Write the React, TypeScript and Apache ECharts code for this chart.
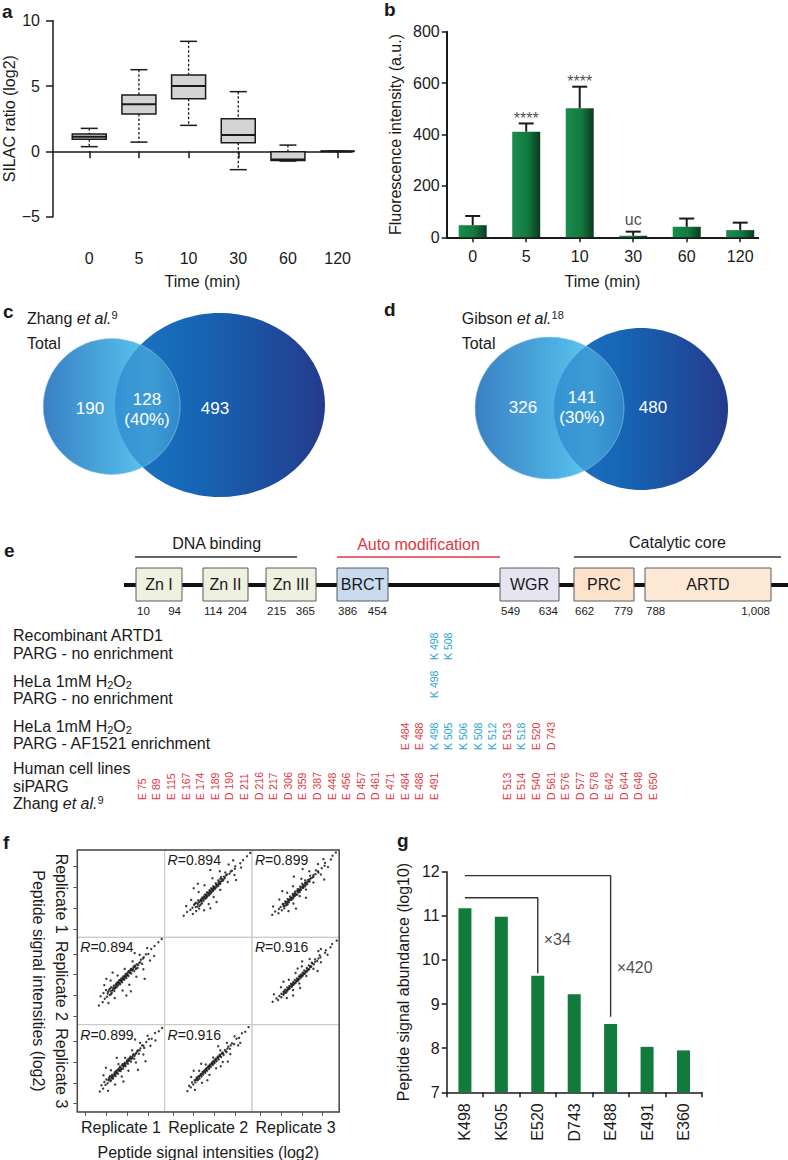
import React, { useEffect, useRef } from "react";
import * as echarts from "echarts";

const FF = '"Liberation Sans", Arial, Helvetica, sans-serif';
const INK = "#1a1a1a";
const RED = "#e2353f";
const BLUE = "#2aa6d6";

// ---------- a: SILAC ratio box plots ----------
const timeLabels = ["0", "5", "10", "30", "60", "120"];
const silacMin = [0.36, 0.71, 1.99, -1.4, -0.74, 0];
const silacQ1 = [0.92, 2.86, 4.03, 0.66, -0.69, 0];
const silacMedian = [1.12, 3.6, 5.0, 1.25, -0.62, 0];
const silacQ3 = [1.33, 4.31, 5.84, 2.5, -0.03, 0];
const silacMax = [1.76, 6.25, 8.42, 4.57, 0.48, 0];

// ---------- b: fluorescence ----------
const fluorMean = [47, 411, 502, 6, 41, 28];
const fluorUpper = [83, 443, 586, 22, 73, 57];
const fluorMarks = ["", "****", "****", "uc", "", ""];

// ---------- c, d: Venn counts ----------
const zhangOnly = 190;
const zhangShared = 128;
const zhangSharedPct = 40;
const zhangOurs = 493;
const gibsonOnly = 326;
const gibsonShared = 141;
const gibsonSharedPct = 30;
const gibsonOurs = 480;

// ---------- e: ARTD1 domains and sites ----------
const domainNames = ["Zn I", "Zn II", "Zn III", "BRCT", "WGR", "PRC", "ARTD"];
const domainStart = [10, 114, 215, 386, 549, 662, 788];
const domainEnd = [94, 204, 365, 454, 634, 779, 1008];
const blank = (n: number): string[] => Array.from({ length: n }, () => "");
const rowRecombinant = [...blank(20), "K 498", "K 508"];
const rowHeLa = [...blank(20), "K 498"];
const rowAF1521 = [...blank(18), "E 484", "E 488", "K 498", "K 505", "K 506", "K 508", "K 512", "E 513", "K 518", "E 520", "D 743"];
const rowZhang = ["E 75", "E 89", "E 115", "E 167", "E 174", "E 189", "D 190", "E 211", "D 216", "E 217", "D 306", "E 359", "D 387", "E 448", "E 456", "D 457", "D 461", "E 471", "E 484", "E 488", "E 491", ...blank(4), "E 513", "E 514", "E 540", "D 561", "E 576", "D 577", "D 578", "E 642", "D 644", "D 648", "E 650"];

// ---------- f: replicate scatter matrix ----------
const replicateNames = ["Replicate 1", "Replicate 2", "Replicate 3"];
const rPair12 = 0.894;
const rPair13 = 0.899;
const rPair23 = 0.916;
const pair12 = [
  [18.6, 19.8], [19.1, 18.4], [19.3, 20.6], [19.6, 19.2], [19.9, 21.3], [20.1, 19.7], [20.3, 20.5], [20.6, 21.4], [20.8, 20.1], [21.0, 21.0], [21.2, 22.0], [21.3, 20.6], [21.6, 21.5], [21.8, 22.4], [21.9, 21.1], [22.1, 21.8], [22.3, 22.6], [22.5, 22.0], [22.6, 23.1], [22.8, 22.4], [23.0, 23.0], [23.1, 23.7], [23.3, 22.7], [23.5, 23.4], [23.6, 24.1], [23.8, 23.2], [24.0, 23.9], [24.1, 24.6], [24.3, 23.8], [24.5, 24.4], [24.6, 25.1], [24.8, 24.2], [25.0, 24.9], [25.2, 25.6], [25.3, 24.7], [25.6, 25.4], [25.8, 26.1], [26.0, 25.3], [26.2, 26.0], [26.5, 26.7], [26.7, 25.9], [27.0, 26.8], [27.3, 27.5], [27.5, 26.6], [27.9, 27.8], [28.3, 28.6], [28.6, 27.6], [29.0, 29.2], [29.5, 29.9], [30.1, 30.0], [30.8, 31.2], [31.6, 31.9], [32.5, 32.8], [33.3, 33.6],
  [21.4, 21.2], [21.7, 21.9], [22.0, 21.7], [22.2, 22.2], [22.4, 22.9], [22.7, 22.6], [22.9, 23.3], [23.2, 23.0], [23.4, 23.8], [23.7, 23.6], [23.9, 24.3], [24.2, 24.0], [24.4, 24.7], [24.7, 24.6], [24.9, 25.3], [25.1, 25.0], [25.4, 25.9], [25.7, 25.6], [25.9, 26.4], [26.1, 26.2], [26.4, 26.3], [26.6, 27.0], [26.9, 27.2], [27.1, 26.4], [27.6, 27.3], [20.4, 20.9], [20.9, 21.7], [21.1, 20.3], [28.1, 28.0], [28.8, 28.9],
  [19.5, 22.5], [20.5, 18.2], [21.0, 23.6], [22.0, 19.4], [22.7, 24.8], [23.9, 21.2], [24.4, 26.4], [25.5, 22.6], [26.3, 28.2], [27.2, 24.5], [28.0, 29.8], [28.9, 26.3], [29.8, 31.4], [30.5, 28.4], [20.0, 24.0], [24.8, 20.0], [26.8, 30.2], [29.2, 24.0], [31.5, 29.5], [18.2, 17.6], [21.5, 25.5], [25.9, 21.0],
];
const pair13 = [
  [18.8, 19.4], [19.2, 18.6], [19.5, 20.2], [19.8, 19.5], [20.0, 20.8], [20.3, 19.9], [20.5, 20.6], [20.7, 21.3], [21.0, 20.4], [21.2, 21.1], [21.4, 21.9], [21.6, 21.0], [21.8, 21.7], [22.0, 22.5], [22.2, 21.6], [22.4, 22.3], [22.6, 23.0], [22.8, 22.2], [23.0, 22.9], [23.2, 23.6], [23.4, 22.8], [23.6, 23.5], [23.8, 24.2], [24.0, 23.4], [24.2, 24.1], [24.4, 24.8], [24.6, 24.0], [24.8, 24.7], [25.0, 25.4], [25.2, 24.6], [25.4, 25.3], [25.7, 26.0], [25.9, 25.1], [26.1, 25.8], [26.4, 26.6], [26.7, 25.8], [27.0, 26.9], [27.4, 27.6], [27.8, 27.0], [28.2, 28.3], [28.6, 29.0], [29.1, 28.4], [29.6, 29.8], [30.2, 30.5], [30.9, 30.6], [31.7, 32.0], [32.6, 32.4], [33.4, 33.2],
  [21.3, 21.5], [21.5, 21.3], [21.9, 22.1], [22.1, 22.0], [22.3, 22.8], [22.5, 22.5], [22.9, 23.3], [23.1, 23.1], [23.3, 23.9], [23.5, 23.2], [23.9, 24.5], [24.1, 23.9], [24.3, 24.5], [24.5, 24.3], [24.9, 25.2], [25.1, 25.1], [25.3, 25.8], [25.6, 25.5], [25.8, 26.3], [26.0, 25.9], [26.3, 26.2], [26.5, 26.9], [26.8, 26.5], [27.2, 27.2], [27.6, 27.8], [20.6, 20.9], [20.9, 21.6], [21.0, 20.6], [28.0, 27.8], [28.9, 28.9],
  [19.3, 21.8], [20.4, 18.1], [21.1, 23.0], [22.1, 19.6], [22.9, 24.5], [23.7, 21.5], [24.5, 26.0], [25.3, 22.9], [26.2, 27.8], [27.1, 24.9], [28.1, 29.6], [28.9, 26.8], [29.9, 31.3], [30.6, 28.9], [19.9, 23.6], [24.1, 20.3], [26.9, 30.4], [29.4, 25.2], [31.8, 30.2], [18.4, 17.9], [22.5, 26.0], [27.6, 23.1],
];
const pair23 = [
  [18.9, 19.3], [19.3, 18.9], [19.6, 20.1], [19.9, 19.6], [20.2, 20.6], [20.4, 20.1], [20.7, 21.1], [20.9, 20.6], [21.2, 21.6], [21.4, 21.0], [21.7, 22.1], [21.9, 21.5], [22.1, 22.6], [22.3, 22.0], [22.6, 23.0], [22.8, 22.4], [23.0, 23.5], [23.2, 22.9], [23.5, 24.0], [23.7, 23.3], [23.9, 24.4], [24.1, 23.8], [24.4, 24.9], [24.6, 24.3], [24.8, 25.3], [25.0, 24.7], [25.3, 25.8], [25.5, 25.2], [25.8, 26.3], [26.0, 25.6], [26.3, 26.8], [26.6, 26.2], [26.9, 27.3], [27.2, 26.7], [27.5, 27.9], [27.9, 27.4], [28.3, 28.7], [28.7, 28.2], [29.2, 29.5], [29.7, 29.3], [30.3, 30.6], [30.9, 30.8], [31.6, 31.9], [32.4, 32.3], [33.2, 33.4],
  [21.3, 21.4], [21.6, 21.8], [21.8, 21.9], [22.2, 22.3], [22.4, 22.7], [22.7, 22.7], [22.9, 23.2], [23.1, 23.2], [23.4, 23.7], [23.6, 23.7], [23.8, 24.1], [24.0, 24.1], [24.3, 24.6], [24.5, 24.6], [24.7, 25.0], [25.0, 25.0], [25.2, 25.5], [25.4, 25.5], [25.7, 26.0], [25.9, 26.0], [26.2, 26.5], [26.4, 26.4], [26.8, 27.0], [27.1, 27.1], [27.7, 27.6], [20.5, 20.7], [20.8, 21.3], [21.0, 20.8], [28.1, 28.2], [28.9, 29.0],
  [19.4, 21.4], [20.3, 18.3], [21.3, 22.9], [22.0, 20.0], [22.9, 24.4], [23.8, 21.9], [24.7, 26.1], [25.4, 23.5], [26.4, 27.8], [27.0, 25.0], [28.0, 29.6], [28.8, 26.9], [29.8, 31.2], [30.7, 29.0], [20.0, 22.9], [23.3, 20.6], [25.9, 28.8], [28.2, 25.1], [31.2, 29.6], [18.5, 18.0], [21.8, 24.6], [26.5, 24.0],
];
const fTicks = [15, 20, 25, 30];

// ---------- g: peptide abundance ----------
const gSites = ["K498", "K505", "E520", "D743", "E488", "E491", "E360"];
const gAbundance = [11.17, 10.98, 9.64, 9.22, 8.55, 8.03, 7.95];
const foldSmall = { from: "K498", to: "E520", level: 11.41, drop: 9.7, labelAt: 10.47, text: "\u00d734" };
const foldLarge = { from: "K498", to: "E488", level: 11.91, drop: 8.71, labelAt: 9.83, text: "\u00d7420" };

// ================== layout helpers ==================
const axisTxt = { fontSize: 16, color: INK, fontFamily: FF };

function text(t: string, x: number, y: number, extra: any = {}, el: any = {}) {
  return {
    type: "text",
    silent: true,
    z: 50,
    ...el,
    style: { text: t, x, y, fill: INK, fontSize: 16, fontFamily: FF, align: "left", verticalAlign: "middle", ...extra },
  };
}

function richBase(size: number) {
  return {
    a: { fontSize: size, fontFamily: FF, fill: INK, lineHeight: size + 1 },
    i: { fontSize: size, fontFamily: FF, fill: INK, fontStyle: "italic", lineHeight: size + 1 },
    s: { fontSize: size - 5, fontFamily: FF, fill: INK, lineHeight: size - 7, verticalAlign: "top" },
    b: { fontSize: size - 5, fontFamily: FF, fill: INK, lineHeight: size - 7, verticalAlign: "bottom" },
  };
}

function buildOption() {
  const grids: any[] = [];
  const xAxes: any[] = [];
  const yAxes: any[] = [];
  const series: any[] = [];
  const g: any[] = [];

  const line = (w: number) => ({ show: true, lineStyle: { color: INK, width: w } });
  const noSplit = { show: false };

  // ---------------- a ----------------
  grids.push({ left: 53, top: 20.7, width: 299, height: 196, outerBoundsMode: "none" });
  xAxes.push({
    gridIndex: 0, type: "value", min: 0.27, max: 6.29, offset: 22,
    axisLine: line(1.5),
    axisTick: { show: true, length: 7, customValues: [1, 2, 3, 4, 5, 6], lineStyle: { color: INK, width: 1.5 } },
    axisLabel: { show: true, customValues: [1, 2, 3, 4, 5, 6], margin: 12, formatter: (v: number) => timeLabels[Math.round(v) - 1] ?? "", ...axisTxt },
    splitLine: noSplit,
    name: "Time (min)", nameLocation: "middle", nameGap: 35, nameTextStyle: axisTxt,
  });
  yAxes.push({
    gridIndex: 0, type: "value", min: -5, max: 10, interval: 5,
    axisLine: line(1.5),
    axisTick: { show: true, length: 7, lineStyle: { color: INK, width: 1.5 } },
    axisLabel: { margin: 13, formatter: (v: number) => (v < 0 ? "\u2212" + Math.abs(v) : String(v)), ...axisTxt },
    splitLine: noSplit,
    name: "SILAC ratio (log2)", nameLocation: "middle", nameGap: 35, nameTextStyle: axisTxt,
  });
  series.push({
    type: "custom", xAxisIndex: 0, yAxisIndex: 0, silent: true,
    data: timeLabels.map((_, i) => [i + 1, silacMin[i], silacQ1[i], silacMedian[i], silacQ3[i], silacMax[i]]),
    renderItem: (_p: any, api: any) => {
      const x = api.value(0);
      const lo = api.coord([x, api.value(1)]);
      const q1 = api.coord([x, api.value(2)]);
      const md = api.coord([x, api.value(3)]);
      const q3 = api.coord([x, api.value(4)]);
      const hi = api.coord([x, api.value(5)]);
      const cx = md[0];
      const hw = 17;
      const cw = 8.5;
      const solid = { stroke: INK, lineWidth: 1.5 };
      const dotted = { stroke: INK, lineWidth: 1.3, lineDash: [2.5, 2] };
      return {
        type: "group",
        children: [
          { type: "line", shape: { x1: cx, y1: hi[1], x2: cx, y2: q3[1] }, style: dotted },
          { type: "line", shape: { x1: cx, y1: q1[1], x2: cx, y2: lo[1] }, style: dotted },
          { type: "line", shape: { x1: cx - cw, y1: hi[1], x2: cx + cw, y2: hi[1] }, style: solid },
          { type: "line", shape: { x1: cx - cw, y1: lo[1], x2: cx + cw, y2: lo[1] }, style: solid },
          { type: "rect", shape: { x: cx - hw, y: q3[1], width: 2 * hw, height: q1[1] - q3[1] }, style: { fill: "#d4d4d4", stroke: INK, lineWidth: 1.5 } },
          { type: "line", shape: { x1: cx - hw, y1: md[1], x2: cx + hw, y2: md[1] }, style: { stroke: INK, lineWidth: 2 } },
        ],
      };
    },
  });

  // ---------------- b ----------------
  grids.push({ left: 446.7, top: 31.7, width: 311.6, height: 205.6, outerBoundsMode: "none" });
  xAxes.push({
    gridIndex: 1, type: "value", min: 0.514, max: 6.338,
    axisLine: line(2),
    axisTick: { show: true, length: 5, customValues: [1, 2, 3, 4, 5, 6], lineStyle: { color: INK, width: 1.5 } },
    axisLabel: { show: true, customValues: [1, 2, 3, 4, 5, 6], margin: 11, formatter: (v: number) => timeLabels[Math.round(v) - 1] ?? "", ...axisTxt },
    splitLine: noSplit,
    name: "Time (min)", nameLocation: "middle", nameGap: 36, nameTextStyle: axisTxt,
  });
  yAxes.push({
    gridIndex: 1, type: "value", min: 0, max: 800, interval: 200,
    axisLine: line(2),
    axisTick: { show: true, length: 5, lineStyle: { color: INK, width: 1.5 } },
    axisLabel: { margin: 7, ...axisTxt },
    splitLine: noSplit,
    name: "Fluorescence intensity (a.u.)", nameLocation: "middle", nameGap: 43, nameTextStyle: axisTxt,
  });
  series.push({
    type: "bar", xAxisIndex: 1, yAxisIndex: 1, barWidth: 28, silent: true,
    data: fluorMean.map((v, i) => [i + 1, v]),
    itemStyle: {
      color: new echarts.graphic.LinearGradient(0, 0, 1, 0, [
        { offset: 0, color: "#1a8d4d" },
        { offset: 0.55, color: "#13793f" },
        { offset: 1, color: "#0a3b1e" },
      ]),
    },
  });
  series.push({
    type: "custom", xAxisIndex: 1, yAxisIndex: 1, silent: true, z: 5,
    data: fluorMean.map((v, i) => [i + 1, v, fluorUpper[i]]),
    renderItem: (_p: any, api: any) => {
      const x = api.value(0);
      const base = api.coord([x, api.value(1)]);
      const top = api.coord([x, api.value(2)]);
      const st = { stroke: INK, lineWidth: 2 };
      return {
        type: "group",
        children: [
          { type: "line", shape: { x1: top[0], y1: base[1], x2: top[0], y2: top[1] }, style: st },
          { type: "line", shape: { x1: top[0] - 7.5, y1: top[1], x2: top[0] + 7.5, y2: top[1] }, style: st },
        ],
      };
    },
  });
  series.push({
    type: "scatter", xAxisIndex: 1, yAxisIndex: 1, symbolSize: 0, silent: true,
    data: fluorMarks
      .map((m, i) => ({ m, i }))
      .filter((d) => d.m)
      .map((d) => ({
        value: [d.i + 1, fluorUpper[d.i]],
        label: {
          show: true, position: "top", formatter: d.m, color: INK, fontFamily: FF,
          fontSize: 16, distance: d.m.startsWith("*") ? -3 : 4,
        },
      })),
  });

  // ---------------- f: scatter matrix ----------------
  const fLeft = 77.3;
  const fTop = 850;
  const fCell = 87.3;
  const pairs: any = { "0-1": pair12, "0-2": pair13, "1-2": pair23 };
  const rVals: any = { "0-1": rPair12, "0-2": rPair13, "1-2": rPair23 };
  for (let r = 0; r < 3; r++) {
    for (let c = 0; c < 3; c++) {
      const gi = grids.length;
      grids.push({
        left: fLeft + c * fCell, top: fTop + r * fCell, width: fCell, height: fCell,
        show: true, borderColor: "#c9c9c9", borderWidth: 1, outerBoundsMode: "none",
      });
      xAxes.push({
        gridIndex: gi, type: "value", min: 13, max: 34,
        axisLine: { show: false },
        axisTick: { show: r === 2, length: 4, customValues: fTicks, lineStyle: { color: "#555" } },
        axisLabel: { show: false }, splitLine: noSplit,
      });
      yAxes.push({
        gridIndex: gi, type: "value", min: 13, max: 34,
        axisLine: { show: false },
        axisTick: { show: c === 0, length: 4, customValues: fTicks, lineStyle: { color: "#555" } },
        axisLabel: { show: false }, splitLine: noSplit,
      });
      if (r !== c) {
        const key = `${Math.min(r, c)}-${Math.max(r, c)}`;
        const pts: number[][] = pairs[key];
        const data = pts.map((p) => (r < c ? [p[1], p[0]] : [p[0], p[1]]));
        series.push({
          type: "scatter", xAxisIndex: gi, yAxisIndex: gi, silent: true,
          symbolSize: 2.4, itemStyle: { color: "#1c1c1c", opacity: 0.85 }, data,
        });
        g.push({
          type: "text", silent: true, z: 50,
          style: {
            text: `{i|R}{a|=${rVals[key].toFixed(3)}}`,
            x: fLeft + c * fCell + 3, y: fTop + r * fCell + 10,
            align: "left", verticalAlign: "middle",
            rich: richBase(14),
          },
        });
      }
    }
  }
  g.push({
    type: "rect", silent: true, z: 60,
    shape: { x: fLeft, y: fTop, width: 3 * fCell, height: 3 * fCell },
    style: { fill: "none", stroke: "#4a4a4a", lineWidth: 1.5 },
  });
  replicateNames.forEach((nm, i) => {
    g.push({
      type: "text", silent: true, z: 50, x: 61.5, y: fTop + (i + 0.5) * fCell, rotation: -Math.PI / 2,
      style: { text: nm, x: 0, y: 0, fill: INK, fontSize: 16, fontFamily: FF, align: "center", verticalAlign: "middle" },
    });
    g.push(text(nm, fLeft + (i + 0.5) * fCell, 1127, { align: "center" }));
  });
  g.push({
    type: "text", silent: true, z: 50, x: 38, y: fTop + 1.5 * fCell, rotation: -Math.PI / 2,
    style: { text: "Peptide signal intensities (log2)", x: 0, y: 0, fill: INK, fontSize: 16, fontFamily: FF, align: "center", verticalAlign: "middle" },
  });
  g.push(text("Peptide signal intensities (log2)", fLeft + 1.5 * fCell, 1152, { align: "center" }));

  // ---------------- g ----------------
  const gG = grids.length;
  grids.push({ left: 446.7, top: 871.7, width: 255, height: 220.6, outerBoundsMode: "none" });
  xAxes.push({
    gridIndex: gG, type: "category", data: gSites,
    axisLine: line(1.5),
    axisTick: { show: true, length: 5, lineStyle: { color: INK, width: 1.5 } },
    axisLabel: { rotate: 90, margin: 11, ...axisTxt },
  });
  yAxes.push({
    gridIndex: gG, type: "value", min: 7, max: 12, interval: 1,
    axisLine: line(1.5),
    axisTick: { show: true, length: 5, lineStyle: { color: INK, width: 1.5 } },
    axisLabel: { margin: 7, ...axisTxt },
    splitLine: noSplit,
    name: "Peptide signal abundance (log10)", nameLocation: "middle", nameGap: 35, nameTextStyle: axisTxt,
  });
  series.push({
    type: "bar", xAxisIndex: gG, yAxisIndex: gG, barWidth: 13, silent: true,
    data: gAbundance, itemStyle: { color: "#107b3b" },
  });
  [foldSmall, foldLarge].forEach((f) => {
    series.push({
      type: "line", xAxisIndex: gG, yAxisIndex: gG, symbol: "none", silent: true,
      lineStyle: { color: "#333", width: 1.4 },
      data: [[f.from, f.level], [f.to, f.level], [f.to, f.drop]],
    });
    series.push({
      type: "scatter", xAxisIndex: gG, yAxisIndex: gG, symbolSize: 0, silent: true,
      data: [[f.to, f.labelAt]],
      label: { show: true, position: "right", distance: 6, formatter: f.text, ...axisTxt },
    });
  });

  // ---------------- e: site labels (hidden slot axis) ----------------
  const gE = grids.length;
  grids.push({ left: 141.7, top: 600, width: 35 * 14.6, height: 220, outerBoundsMode: "none" });
  xAxes.push({ gridIndex: gE, type: "value", min: 0, max: 35, show: false });
  yAxes.push({ gridIndex: gE, type: "value", min: 600, max: 820, inverse: true, show: false });
  const rowBase = [660, 698, 750, 800];
  const siteNames: string[] = [];
  const sitePts: number[][] = [];
  [rowRecombinant, rowHeLa, rowAF1521, rowZhang].forEach((row, ri) => {
    row.forEach((nm, slot) => {
      if (nm) {
        siteNames.push(nm);
        sitePts.push([slot, rowBase[ri]]);
      }
    });
  });
  series.push({
    type: "custom", xAxisIndex: gE, yAxisIndex: gE, silent: true, data: sitePts,
    renderItem: (p: any, api: any) => {
      const pt = api.coord([api.value(0), api.value(1)]);
      const nm = siteNames[p.dataIndex];
      return {
        type: "text", x: pt[0], y: pt[1], rotation: Math.PI / 2,
        style: {
          text: nm, x: 0, y: 0, fill: nm.startsWith("K") ? BLUE : RED,
          fontSize: 10.5, fontFamily: FF, align: "left", verticalAlign: "middle",
        },
      };
    },
  });

  // ---------------- panel letters ----------------
  const letter = (t: string, x: number, y: number) => text(t, x, y, { fontWeight: "bold", fontSize: 19 });
  g.push(letter("a", 2, 11), letter("b", 384, 9), letter("c", 3, 311), letter("d", 384, 309), letter("e", 4, 550), letter("f", 3, 842), letter("g", 397, 840));

  // ---------------- c, d: Venn ----------------
  const lightGrad = () =>
    new echarts.graphic.LinearGradient(0, 0, 1, 0, [
      { offset: 0, color: "#3a80c4" },
      { offset: 0.55, color: "#4eb0e2" },
      { offset: 0.78, color: "#60c8ee" },
      { offset: 1, color: "#4aa9dd" },
    ]);
  const darkGrad = () =>
    new echarts.graphic.LinearGradient(0, 0, 1, 0, [
      { offset: 0, color: "#1c78c4" },
      { offset: 0.4, color: "#1665b4" },
      { offset: 1, color: "#243b8c" },
    ]);
  // each: [cx, cy, rx, ry]
  const venn = (l: number[], d: number[]) => [
    { type: "ellipse", silent: true, z: 10, shape: { cx: l[0], cy: l[1], rx: l[2], ry: l[3] }, style: { fill: lightGrad() } },
    { type: "ellipse", silent: true, z: 11, shape: { cx: d[0], cy: d[1], rx: d[2], ry: d[3] }, style: { fill: darkGrad() } },
    {
      type: "ellipse", silent: true, z: 12, shape: { cx: l[0], cy: l[1], rx: l[2], ry: l[3] },
      style: { fill: lightGrad(), opacity: 0.5, stroke: "rgba(175,222,246,0.9)", lineWidth: 1 },
    },
  ];
  g.push(...venn([111.7, 406.5, 68.5, 68], [220, 405, 105, 92]));
  g.push(...venn([549.5, 408, 74.5, 71], [641, 409, 87, 81]));
  const white = { fill: "#ffffff", fontSize: 17, align: "center" };
  g.push(
    text(String(zhangOnly), 90, 408, white),
    text(String(zhangShared), 147, 399, white),
    text(`(${zhangSharedPct}%)`, 147, 419, white),
    text(String(zhangOurs), 215, 408, white),
    text(String(gibsonOnly), 523, 407, white),
    text(String(gibsonShared), 582, 397, white),
    text(`(${gibsonSharedPct}%)`, 582, 417, white),
    text(String(gibsonOurs), 653, 407, white),
  );
  g.push(text("{a|Zhang }{i|et al.}{s|9}", 27, 318, { rich: richBase(16) }));
  g.push(text("Total", 27, 343));
  g.push(text("{a|Gibson }{i|et al.}{s|18}", 461.7, 318, { rich: richBase(16) }));
  g.push(text("Total", 461.7, 343));

  // ---------------- e: domain schematic ----------------
  const anns = [
    { t: "DNA binding", color: INK, cx: 216.7, y: 543, x0: 135, x1: 297 },
    { t: "Auto modification", color: RED, cx: 418.5, y: 544, x0: 337, x1: 500 },
    { t: "Catalytic core", color: INK, cx: 677.5, y: 542, x0: 574, x1: 781 },
  ];
  anns.forEach((a) => {
    g.push(text(a.t, a.cx, a.y, { fill: a.color, align: "center" }));
    g.push({ type: "line", silent: true, z: 20, shape: { x1: a.x0, y1: 557, x2: a.x1, y2: 557 }, style: { stroke: a.color === INK ? "#333" : a.color, lineWidth: 1.6 } });
  });
  g.push({ type: "line", silent: true, z: 20, shape: { x1: 124, y1: 585, x2: 788, y2: 585 }, style: { stroke: "#111", lineWidth: 4 } });
  const boxX0 = [136, 203, 266, 337, 500, 574, 645];
  const boxX1 = [182, 248, 316, 388, 559, 634, 771];
  const boxFill = ["#eef1e0", "#eef1e0", "#eef1e0", "#c9d9ef", "#e6e4f1", "#fde3cc", "#fde7d5"];
  domainNames.forEach((nm, i) => {
    g.push({
      type: "rect", silent: true, z: 21,
      shape: { x: boxX0[i], y: 568, width: boxX1[i] - boxX0[i], height: 33 },
      style: { fill: boxFill[i], stroke: "#5a5a5a", lineWidth: 1 },
    });
    g.push(text(nm, (boxX0[i] + boxX1[i]) / 2, 584.5, { align: "center" }));
    g.push(text(domainStart[i].toLocaleString("en-US"), boxX0[i] + 1, 611, { fontSize: 11.5 }));
    g.push(text(domainEnd[i].toLocaleString("en-US"), boxX1[i] - 1, 611, { fontSize: 11.5, align: "right" }));
  });
  const rich16 = richBase(16);
  const descLines: [string, number][] = [
    ["{a|Recombinant ARTD1}", 635],
    ["{a|PARG - no enrichment}", 653.3],
    ["{a|HeLa 1mM H}{b|2}{a|O}{b|2}", 681.7],
    ["{a|PARG - no enrichment}", 698.3],
    ["{a|HeLa 1mM H}{b|2}{a|O}{b|2}", 726.7],
    ["{a|PARG - AF1521 enrichment}", 743.3],
    ["{a|Human cell lines}", 768.3],
    ["{a|siPARG}", 786.7],
    ["{a|Zhang }{i|et al.}{s|9}", 803.3],
  ];
  descLines.forEach(([t, y]) => g.push(text(t, 13, y, { rich: rich16 })));

  return {
    animation: false,
    backgroundColor: "#ffffff",
    textStyle: { fontFamily: FF },
    grid: grids,
    xAxis: xAxes,
    yAxis: yAxes,
    series,
    graphic: g,
  };
}

export default function App() {
  const ref = useRef<HTMLDivElement>(null);
  useEffect(() => {
    if (!ref.current) return;
    const chart = echarts.init(ref.current, null, { renderer: "svg" });
    chart.setOption(buildOption() as any);
    return () => chart.dispose();
  }, []);
  return (
    <div
      ref={ref}
      style={{ position: "absolute", left: 0, top: 0, width: 788, height: 1160, background: "#fff" }}
    />
  );
}
